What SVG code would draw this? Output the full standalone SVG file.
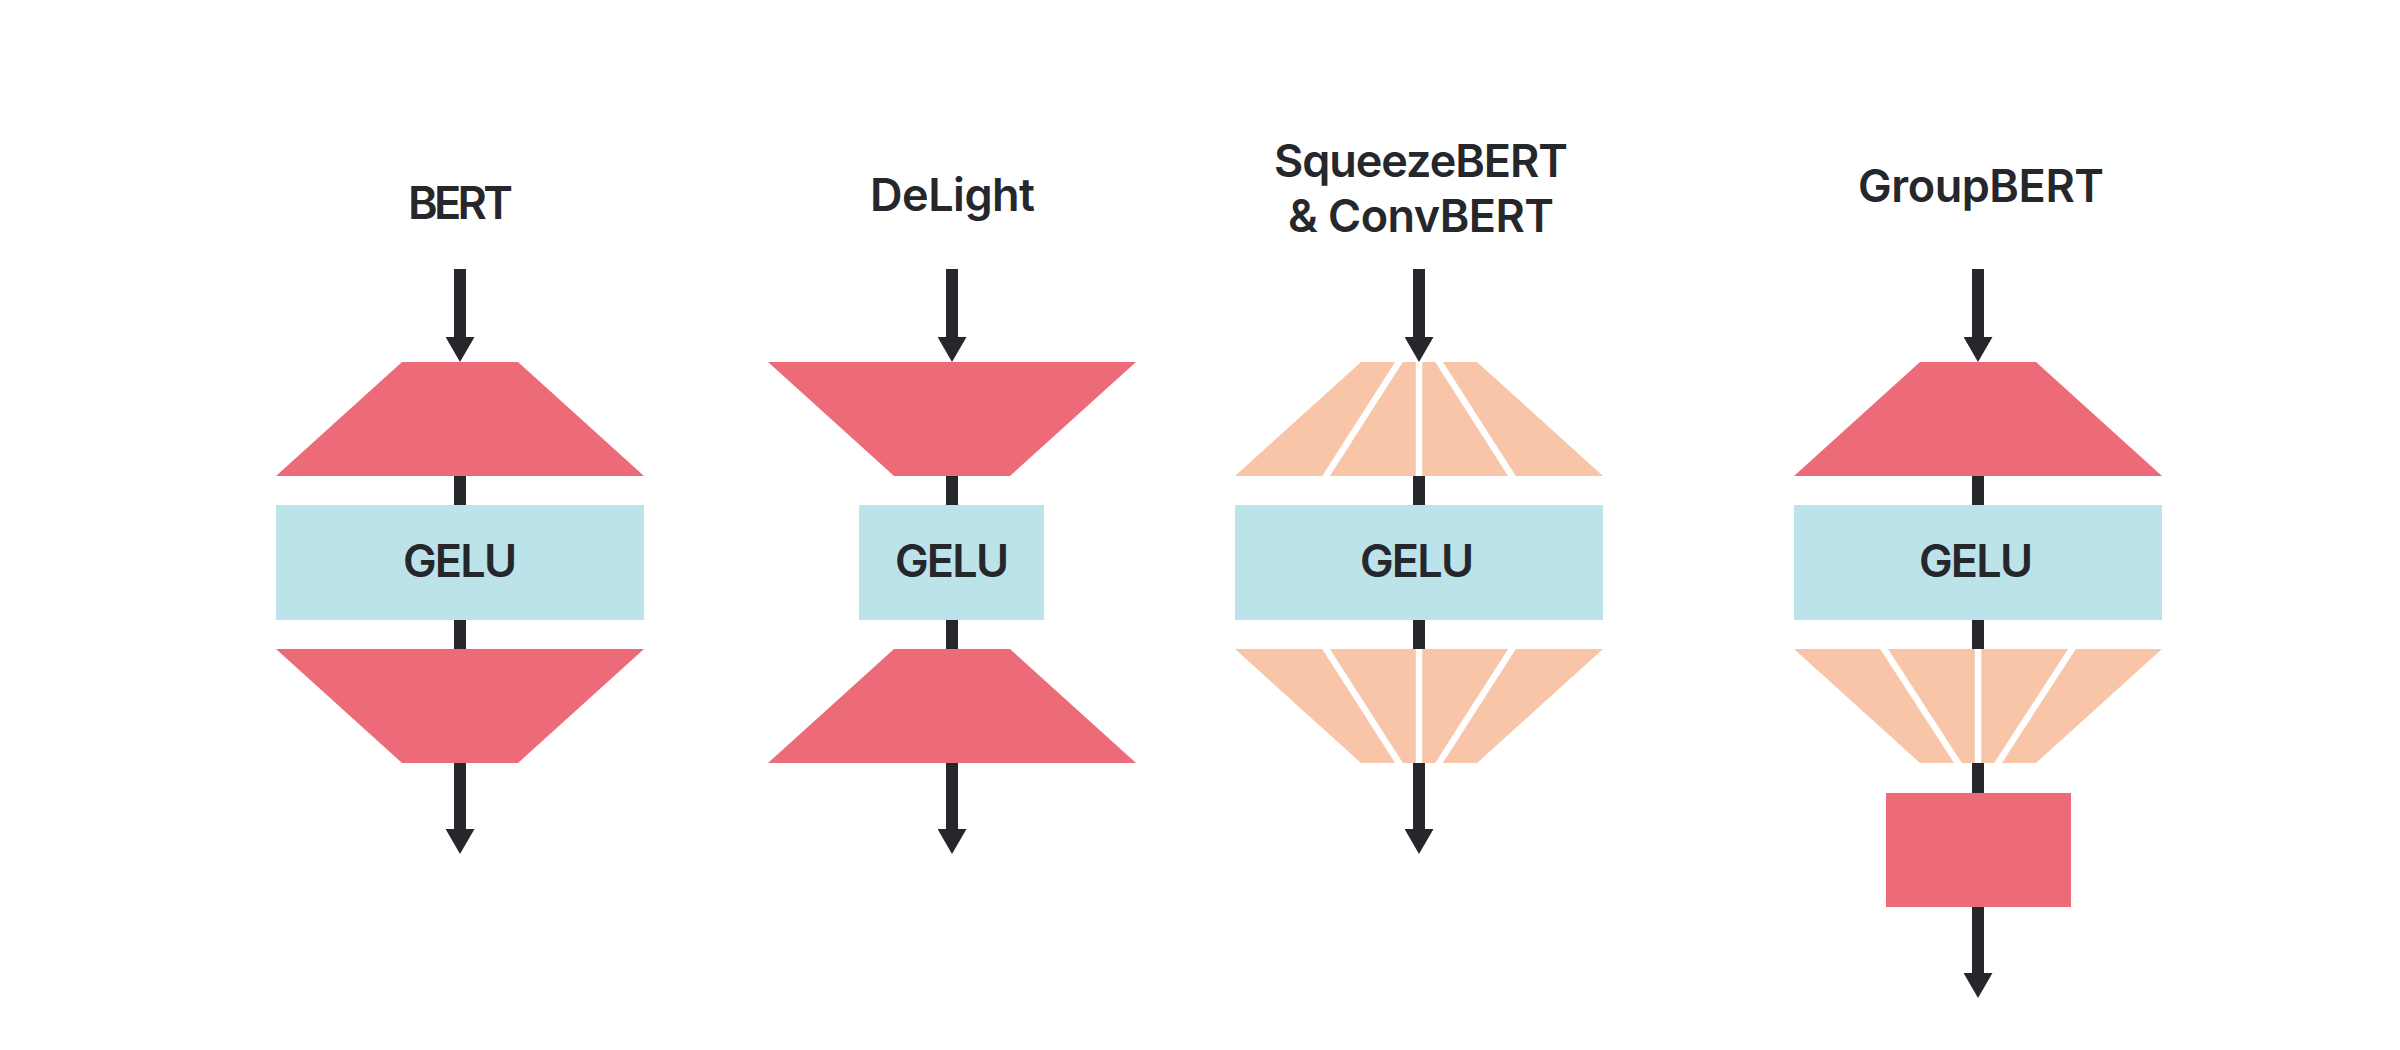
<svg xmlns="http://www.w3.org/2000/svg" width="2400" height="1050" viewBox="0 0 2400 1050">
  <style>
    .lbl { font-family: Inter, Roboto, "Liberation Sans", sans-serif; font-weight: 600; font-size: 45px; fill: #25272b; text-anchor: middle; }
    .red { fill: #ed6a79; }
    .blue { fill: #bce3ea; }
    .peach { fill: #f8c5a9; }
    .sep { stroke: #ffffff; stroke-width: 6.5; fill: none; }
    .conn { stroke: #25272b; stroke-width: 12; fill: none; }
    .arr { marker-end: url(#head); }
  </style>
  <defs>
    <marker id="head" viewBox="0 0 25 29" refX="0" refY="14.5" markerWidth="25" markerHeight="29" markerUnits="userSpaceOnUse" orient="auto">
      <path d="M0,0 L25,14.5 L0,29 Z" fill="#25272b"/>
    </marker>
  </defs>
  <rect width="2400" height="1050" fill="#ffffff"/>

  <g id="connectors">
    <line class="conn arr" x1="460" y1="269" x2="460" y2="337"/>
    <line class="conn" x1="460" y1="476" x2="460" y2="505"/>
    <line class="conn" x1="460" y1="620" x2="460" y2="649"/>
    <line class="conn arr" x1="460" y1="763" x2="460" y2="829"/>

    <line class="conn arr" x1="952" y1="269" x2="952" y2="337"/>
    <line class="conn" x1="952" y1="476" x2="952" y2="505"/>
    <line class="conn" x1="952" y1="620" x2="952" y2="649"/>
    <line class="conn arr" x1="952" y1="763" x2="952" y2="829"/>

    <line class="conn arr" x1="1419" y1="269" x2="1419" y2="337"/>
    <line class="conn" x1="1419" y1="476" x2="1419" y2="505"/>
    <line class="conn" x1="1419" y1="620" x2="1419" y2="649"/>
    <line class="conn arr" x1="1419" y1="763" x2="1419" y2="829"/>

    <line class="conn arr" x1="1978" y1="269" x2="1978" y2="337"/>
    <line class="conn" x1="1978" y1="476" x2="1978" y2="505"/>
    <line class="conn" x1="1978" y1="620" x2="1978" y2="649"/>
    <line class="conn" x1="1978" y1="763" x2="1978" y2="793"/>
    <line class="conn arr" x1="1978" y1="907" x2="1978" y2="973"/>
  </g>

  <g id="title-bert"><text class="lbl" x="460.5" y="219" textLength="105" lengthAdjust="spacing">BERT</text></g>
  <g id="title-delight"><text class="lbl" x="952.5" y="211" textLength="165" lengthAdjust="spacing">DeLight</text></g>
  <g id="title-squeezebert">
    <text class="lbl" x="1421" y="177" textLength="294" lengthAdjust="spacing">SqueezeBERT</text>
    <text class="lbl" x="1421" y="232" textLength="266" lengthAdjust="spacing">&amp; ConvBERT</text>
  </g>
  <g id="title-groupbert"><text class="lbl" x="1981" y="202" textLength="246" lengthAdjust="spacing">GroupBERT</text></g>

  <!-- BERT -->
  <g id="bert-up"><polygon class="red" points="402,362 518,362 644,476 276,476"/></g>
  <g id="bert-gelu"><rect class="blue" x="276" y="505" width="368" height="115"/><text class="lbl" x="460" y="577" textLength="114" lengthAdjust="spacing">GELU</text></g>
  <g id="bert-down"><polygon class="red" points="276,649 644,649 518,763 402,763"/></g>

  <!-- DeLight -->
  <g id="delight-down"><polygon class="red" points="768,362 1136,362 1010,476 894,476"/></g>
  <g id="delight-gelu"><rect class="blue" x="859" y="505" width="185" height="115"/><text class="lbl" x="952" y="577" textLength="114" lengthAdjust="spacing">GELU</text></g>
  <g id="delight-up"><polygon class="red" points="894,649 1010,649 1136,763 768,763"/></g>

  <!-- SqueezeBERT & ConvBERT -->
  <g id="squeeze-up">
    <polygon class="peach" points="1361,362 1477,362 1603,476 1235,476"/>
    <line class="sep" x1="1401.2" y1="358.6" x2="1323.8" y2="479.4"/>
    <line class="sep" x1="1436.8" y1="358.6" x2="1514.2" y2="479.4"/>
    <line class="sep" x1="1419" y1="362" x2="1419" y2="476"/>
  </g>
  <g id="squeeze-gelu"><rect class="blue" x="1235" y="505" width="368" height="115"/><text class="lbl" x="1417" y="577" textLength="114" lengthAdjust="spacing">GELU</text></g>
  <g id="squeeze-down">
    <polygon class="peach" points="1235,649 1603,649 1477,763 1361,763"/>
    <line class="sep" x1="1323.8" y1="645.6" x2="1401.2" y2="766.4"/>
    <line class="sep" x1="1514.2" y1="645.6" x2="1436.8" y2="766.4"/>
    <line class="sep" x1="1419" y1="649" x2="1419" y2="763"/>
  </g>

  <!-- GroupBERT -->
  <g id="group-up"><polygon class="red" points="1920,362 2036,362 2162,476 1794,476"/></g>
  <g id="group-gelu"><rect class="blue" x="1794" y="505" width="368" height="115"/><text class="lbl" x="1976" y="577" textLength="114" lengthAdjust="spacing">GELU</text></g>
  <g id="group-down">
    <polygon class="peach" points="1794,649 2162,649 2036,763 1920,763"/>
    <line class="sep" x1="1881.8" y1="645.6" x2="1960.2" y2="766.4"/>
    <line class="sep" x1="2074.2" y1="645.6" x2="1995.8" y2="766.4"/>
    <line class="sep" x1="1978" y1="649" x2="1978" y2="763"/>
  </g>
  <g id="group-out"><rect class="red" x="1886" y="793" width="185" height="114"/></g>
</svg>
